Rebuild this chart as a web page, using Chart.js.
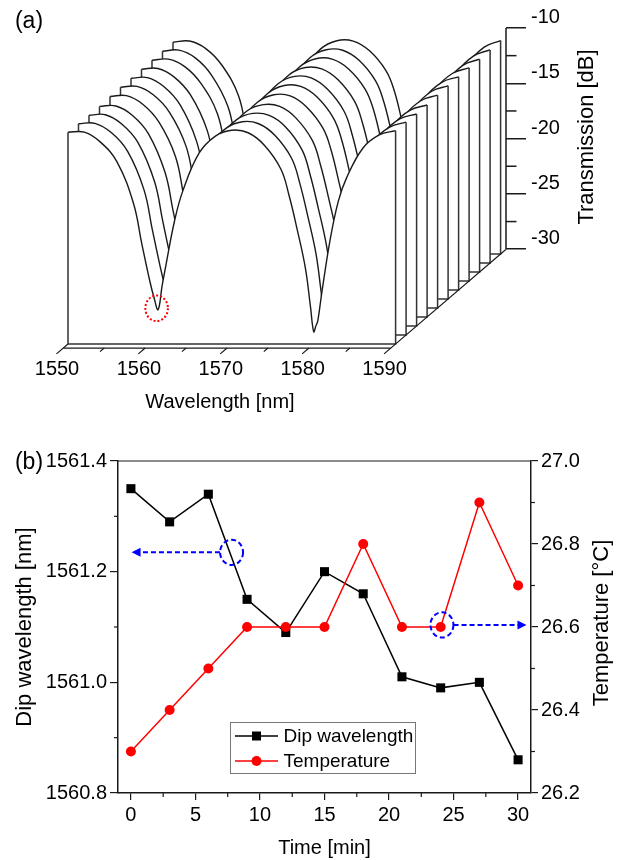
<!DOCTYPE html>
<html>
<head>
<meta charset="utf-8">
<script src="https://cdn.jsdelivr.net/npm/chart.js@4"></script>
<style>
  html, body { margin: 0; padding: 0; background: #fff; }
  canvas { position: absolute; left: 0; }
  #chartA { top: 0; }
  #chartB { top: 420px; }
</style>
</head>
<body>
<canvas id="chartA" width="624" height="420"></canvas>
<canvas id="chartB" width="624" height="440"></canvas>
<script>
// panel (a) - spectra, front trace first (30 min) to back trace (0 min)
var gridNm = [1550,1552,1554,1556,1558,1559,1560,1560.5,1561,1561.5,1562,1563,1564,1566,1568,1570,1572,1574,1576,1577,1578,1579,1579.6,1580,1580.25,1580.5,1581,1582,1583,1584,1586,1588,1590];
var trace30 = [-10.86,-10.85,-11.77,-13.55,-17.30,-20.90,-24.35,-25.80,-26.90,-24.70,-22.70,-18.90,-16.20,-12.75,-11.20,-10.67,-10.90,-12.05,-14.20,-16.60,-19.70,-23.20,-26.60,-28.90,-28.40,-27.90,-25.30,-20.60,-17.10,-15.00,-12.30,-11.10,-10.71];
var trace27 = [-10.90,-10.86,-11.70,-13.40,-16.88,-20.42,-23.90,-25.42,-26.62,-25.32,-23.30,-19.46,-16.62,-12.96,-11.32,-10.72,-10.90,-11.96,-14.00,-16.22,-19.28,-22.66,-25.94,-28.12,-28.02,-27.92,-25.94,-21.24,-17.56,-15.32,-12.48,-11.20,-10.76];
var trace24 = [-10.94,-10.90,-11.74,-13.44,-16.94,-20.50,-23.98,-25.48,-26.66,-25.24,-23.28,-19.46,-16.64,-13.00,-11.36,-10.78,-10.96,-12.00,-14.06,-16.32,-19.36,-22.74,-26.00,-28.20,-28.08,-27.96,-25.94,-21.26,-17.60,-15.38,-12.54,-11.26,-10.83];
var trace21 = [-10.96,-10.92,-11.76,-13.46,-16.92,-20.46,-23.94,-25.46,-26.64,-25.36,-23.40,-19.56,-16.72,-13.04,-11.38,-10.80,-10.96,-12.02,-14.06,-16.30,-19.32,-22.72,-25.98,-28.16,-28.07,-27.98,-26.02,-21.34,-17.64,-15.40,-12.56,-11.28,-10.83];
var trace18 = [-10.88,-10.80,-11.58,-13.22,-16.32,-19.84,-23.34,-24.94,-26.26,-26.02,-23.92,-20.06,-17.02,-13.16,-11.40,-10.72,-10.82,-11.82,-13.74,-15.74,-18.76,-22.02,-25.14,-27.22,-27.78,-28.34,-26.42,-21.98,-18.02,-15.62,-12.62,-11.24,-10.76];
var trace15 = [-10.86,-10.78,-11.54,-13.14,-16.18,-19.66,-23.18,-24.82,-26.14,-26.22,-24.08,-20.20,-17.12,-13.22,-11.40,-10.70,-10.78,-11.74,-13.64,-15.60,-18.62,-21.84,-24.92,-26.98,-27.74,-28.50,-26.66,-22.16,-18.14,-15.68,-12.64,-11.22,-10.73];
var trace12 = [-10.86,-10.80,-11.61,-13.27,-16.54,-20.06,-23.57,-25.14,-26.40,-25.72,-23.62,-19.78,-16.82,-13.06,-11.33,-10.69,-10.83,-11.86,-13.82,-15.94,-18.98,-22.28,-25.41,-27.50,-27.81,-28.12,-26.18,-21.64,-17.80,-15.46,-12.54,-11.20,-10.73];
var trace9  = [-10.86,-10.79,-11.57,-13.20,-16.34,-19.86,-23.36,-24.96,-26.28,-25.96,-23.86,-20.00,-16.98,-13.13,-11.37,-10.70,-10.82,-11.81,-13.74,-15.76,-18.78,-22.04,-25.17,-27.26,-27.78,-28.30,-26.36,-21.90,-17.98,-15.58,-12.59,-11.22,-10.73];
var trace6  = [-10.86,-10.76,-11.43,-12.97,-15.72,-19.18,-22.68,-24.36,-25.72,-26.84,-24.78,-20.72,-17.52,-13.38,-11.47,-10.72,-10.76,-11.64,-13.44,-15.22,-18.16,-21.26,-24.19,-26.14,-27.48,-28.82,-27.40,-22.74,-18.54,-15.98,-12.82,-11.30,-10.76];
var trace3  = [-10.86,-10.76,-11.46,-13.03,-15.88,-19.34,-22.84,-24.50,-25.84,-26.64,-24.98,-20.56,-17.40,-13.30,-11.44,-10.72,-10.77,-11.68,-13.52,-15.38,-18.32,-21.48,-24.46,-26.44,-27.55,-28.66,-27.20,-22.50,-18.38,-15.86,-12.76,-11.28,-10.74];
var trace0  = [-10.86,-10.75,-11.43,-12.96,-15.70,-19.14,-22.64,-24.34,-25.70,-26.86,-24.76,-20.76,-17.56,-13.40,-11.48,-10.72,-10.75,-11.63,-13.42,-15.20,-18.12,-21.22,-24.15,-26.10,-27.48,-28.86,-27.44,-22.78,-18.56,-16.00,-12.84,-11.30,-10.71];
var traces = [trace30,trace27,trace24,trace21,trace18,trace15,trace12,trace9,trace6,trace3,trace0];

var wlMajorTicks = [1550,1560,1570,1580,1590];
var wlMinorTicks = [1555,1565,1575,1585];
var dbMajorTicks = [-10,-15,-20,-25,-30];
var dbMinorTicks = [-12.5,-17.5,-22.5,-27.5];

// panel (b)
var timeMin = [0,3,6,9,12,15,18,21,24,27,30];
var dipWavelength = [1561.35,1561.29,1561.34,1561.15,1561.09,1561.20,1561.16,1561.01,1560.99,1561.00,1560.86];
var temperature = [26.3,26.4,26.5,26.6,26.6,26.6,26.8,26.6,26.6,26.9,26.7];
var timeMajorTicks = [0,5,10,15,20,25,30];
var timeMinorTicks = [2.5,7.5,12.5,17.5,22.5,27.5];
var dipMajorTicks = [1560.8,1561.0,1561.2,1561.4];
var dipMinorTicks = [1560.9,1561.1,1561.3];
var tempMajorTicks = [26.2,26.4,26.6,26.8,27.0];
var tempMinorTicks = [26.3,26.5,26.7,26.9];

var FONT = '"Liberation Sans", Arial, sans-serif';
var INK = '#1a1a1a';

// each trace sits one step further back and up in the fake depth direction
var depthNm = 1.282;
var depthDb = 0.814;

function setTicks(list) {
  return function (scale) {
    scale.ticks = list.map(function (v) { return { value: v }; });
  };
}

var datasetsA = [];
for (var i = 0; i < traces.length; i++) {
  var shiftNm = i * depthNm;
  var shiftDb = i * depthDb;
  var floorDb = -30 + shiftDb;
  var last = gridNm.length - 1;
  var pts = [];
  for (var j = 0; j < gridNm.length; j++) {
    pts.push({ x: gridNm[j] + shiftNm, y: traces[i][j] + shiftDb });
  }

  // the straight walls and floor of this trace, kept apart so the curve smoothing does not bend them
  datasetsA.push({
    data: [
      pts[0],
      { x: gridNm[0] + shiftNm, y: floorDb },
      { x: gridNm[last] + shiftNm, y: floorDb },
      pts[last]
    ],
    xAxisID: 'x', yAxisID: 'y',
    borderColor: '#333333', borderWidth: 1.5, pointRadius: 0, showLine: true, fill: false, clip: false
  });
  datasetsA.push({
    data: pts,
    xAxisID: 'x', yAxisID: 'y',
    borderColor: INK, borderWidth: 1.4, pointRadius: 0, showLine: true,
    tension: 0.4,
    fill: { value: floorDb }, backgroundColor: '#ffffff', clip: false
  });
}

var waterfallAxes = {
  id: 'waterfallAxes',
  afterDatasetsDraw: function (chart) {
    var ctx = chart.ctx, sx = chart.scales.x, sy = chart.scales.y, sd = chart.scales.yAxis;
    function px(nm, depth) { return sx.getPixelForValue(nm + depth * depthNm); }
    function py(depth) { return sy.getPixelForValue(-30 + depth * depthDb); }
    function seg(x1, y1, x2, y2) { ctx.beginPath(); ctx.moveTo(x1, y1); ctx.lineTo(x2, y2); ctx.stroke(); }

    ctx.save();
    ctx.strokeStyle = INK;
    ctx.lineWidth = 1.2;
    // lower edge of the floor + the two depth edges
    seg(px(1550, -0.45), py(-0.45), px(1590, -0.45), py(-0.45));
    seg(px(1550, -1.1), py(-1.1), px(1550, 0), py(0));
    seg(px(1590, -1.1), py(-1.1), px(1590, 10.5), py(10.5));
    // slanted wavelength ticks
    wlMajorTicks.forEach(function (v) { if (v > 1550 && v < 1590) seg(px(v, -0.45), py(-0.45), px(v, -1.1), py(-1.1)); });
    wlMinorTicks.forEach(function (v) { seg(px(v, -0.45), py(-0.45), px(v, -0.85), py(-0.85)); });
    // right hand dB axis
    ctx.lineWidth = 1.5;
    seg(sd.left, sd.getPixelForValue(-10), sd.left, sd.getPixelForValue(-30));
    dbMinorTicks.forEach(function (v) { var y = sd.getPixelForValue(v); seg(sd.left, y, sd.left + 10.5, y); });
    // red dotted circle around the tracked dip
    ctx.strokeStyle = '#ff0000';
    ctx.lineWidth = 2;
    ctx.setLineDash([2, 2]);
    ctx.beginPath();
    ctx.ellipse(sx.getPixelForValue(1560.82), sy.getPixelForValue(-26.77), 11.3, 12.8, 0, 0, Math.PI * 2);
    ctx.stroke();
    ctx.setLineDash([]);
    // texts that do not sit on the middle of an axis
    ctx.fillStyle = '#000';
    ctx.textAlign = 'center';
    ctx.textBaseline = 'middle';
    ctx.font = '23px ' + FONT;
    ctx.fillText('(a)', 29, 22);
    ctx.font = '20px ' + FONT;
    ctx.fillText('Wavelength [nm]', 220, 402);
    ctx.translate(587, 137);
    ctx.rotate(-Math.PI / 2);
    ctx.font = '22px ' + FONT;
    ctx.fillText('Transmission [dB]', 0, 0);
    ctx.restore();
  }
};

new Chart(document.getElementById('chartA'), {
  type: 'scatter',
  data: { datasets: datasetsA },
  plugins: [waterfallAxes],
  options: {
    responsive: false,
    animation: false,
    layout: { padding: { left: 68, top: 28, right: 0, bottom: 0 } },
    plugins: { legend: { display: false }, tooltip: { enabled: false } },
    scales: {
      x: {
        type: 'linear', position: 'bottom', min: 1550, max: 1603.48,
        afterBuildTicks: setTicks(wlMajorTicks),
        afterFit: function (s) { s.height = 73; },
        grid: { display: false },
        border: { display: false },
        ticks: {
          autoSkip: false, maxRotation: 0, padding: 2, labelOffset: -11, color: '#000',
          font: { family: FONT, size: 20 },
          callback: function (v) { return String(v); }
        }
      },
      y: { type: 'linear', display: false, min: -30.27, max: -1.43 },
      yAxis: {
        type: 'linear', position: 'right', min: -38.84, max: -10,
        afterBuildTicks: setTicks(dbMajorTicks),
        afterFit: function (s) { s.width = 118; },
        grid: { drawOnChartArea: false, tickLength: 20, tickColor: INK, lineWidth: 1.5 },
        border: { display: false },
        ticks: {
          autoSkip: false, padding: 5, labelOffset: -10.5, color: '#000',
          font: { family: FONT, size: 20 },
          callback: function (v) { return String(v); }
        }
      }
    }
  }
});

var annotations = {
  id: 'annotations',
  afterDatasetsDraw: function (chart) {
    var ctx = chart.ctx, a = chart.chartArea, sx = chart.scales.x, sl = chart.scales.y, sr = chart.scales.y2;
    function seg(x1, y1, x2, y2) { ctx.beginPath(); ctx.moveTo(x1, y1); ctx.lineTo(x2, y2); ctx.stroke(); }
    function minor(list, scale, base, dir, len, horizontal) {
      list.forEach(function (v) {
        var p = scale.getPixelForValue(v);
        if (horizontal) seg(p, base, p, base + dir * len);
        else seg(base, p, base + dir * len, p);
      });
    }
    function cursor(time, y, tipTime, fromTime) {
      var cx = sx.getPixelForValue(time);
      var tip = sx.getPixelForValue(tipTime), from = sx.getPixelForValue(fromTime);
      var dir = tip < from ? 1 : -1;
      ctx.strokeStyle = '#0000ff';
      ctx.fillStyle = '#0000ff';
      ctx.lineWidth = 2;
      ctx.setLineDash([5, 3]);
      ctx.beginPath();
      ctx.ellipse(cx, y, 11.5, 12.6, 0, 0, Math.PI * 2);
      ctx.stroke();
      seg(from, y, tip + dir * 8, y);
      ctx.setLineDash([]);
      ctx.beginPath();
      ctx.moveTo(tip, y);
      ctx.lineTo(tip + dir * 9, y - 4.5);
      ctx.lineTo(tip + dir * 9, y + 4.5);
      ctx.closePath();
      ctx.fill();
    }

    ctx.save();
    ctx.strokeStyle = INK;
    ctx.lineWidth = 1.2;
    seg(a.left, a.top, a.right, a.top);
    minor(timeMinorTicks, sx, a.bottom, 1, 4, true);
    minor(dipMinorTicks, sl, a.left, -1, 4, false);
    minor(tempMinorTicks, sr, a.right, 1, 4, false);

    cursor(7.8, sl.getPixelForValue(1561.235), 0.05, 6.9);
    cursor(24.1, sr.getPixelForValue(26.605), 30.65, 25);

    // legend box
    var ds = chart.data.datasets;
    ctx.strokeStyle = '#777';
    ctx.lineWidth = 1;
    ctx.fillStyle = '#fff';
    ctx.fillRect(230.5, 302.5, 185, 51);
    ctx.strokeRect(230.5, 302.5, 185, 51);
    var rows = [316, 341];
    ds.forEach(function (d, n) {
      ctx.strokeStyle = d.borderColor;
      ctx.lineWidth = 1.5;
      seg(235, rows[n], 278, rows[n]);
      ctx.fillStyle = d.borderColor;
      if (d.pointStyle === 'rect') {
        ctx.fillRect(252, rows[n] - 4.5, 9, 9);
      } else {
        ctx.beginPath();
        ctx.arc(256.5, rows[n], 5, 0, Math.PI * 2);
        ctx.fill();
      }
      ctx.fillStyle = '#000';
      ctx.font = '19px ' + FONT;
      ctx.textAlign = 'left';
      ctx.textBaseline = 'middle';
      ctx.fillText(d.label, 283.5, rows[n] + 1);
    });

    ctx.font = '23px ' + FONT;
    ctx.textAlign = 'center';
    ctx.fillText('(b)', 29, 43);
    // chart.js would turn a right axis title the other way round
    ctx.translate(602, 203);
    ctx.rotate(-Math.PI / 2);
    ctx.font = '22px ' + FONT;
    ctx.fillText('Temperature [°C]', 0, 0);
    ctx.restore();
  }
};

function xy(xs, ys) {
  return xs.map(function (x, k) { return { x: x, y: ys[k] }; });
}

new Chart(document.getElementById('chartB'), {
  type: 'scatter',
  data: {
    datasets: [
      {
        label: 'Dip wavelength', data: xy(timeMin, dipWavelength), yAxisID: 'y', order: 2,
        borderColor: '#000000', backgroundColor: '#000000', borderWidth: 1.5, showLine: true,
        pointStyle: 'rect', pointRadius: 6.4, pointBorderWidth: 0
      },
      {
        label: 'Temperature', data: xy(timeMin, temperature), yAxisID: 'y2', order: 1,
        borderColor: '#ff0000', backgroundColor: '#ff0000', borderWidth: 1.5, showLine: true,
        pointStyle: 'circle', pointRadius: 5, pointBorderWidth: 0
      }
    ]
  },
  plugins: [annotations],
  options: {
    responsive: false,
    animation: false,
    layout: { padding: { top: 41, left: 0, right: 0, bottom: 0 } },
    plugins: { legend: { display: false }, tooltip: { enabled: false } },
    scales: {
      x: {
        type: 'linear', position: 'bottom', min: -1, max: 31,
        afterBuildTicks: setTicks(timeMajorTicks),
        afterFit: function (s) { s.height = 67; },
        grid: { drawOnChartArea: false, tickLength: 7, tickColor: INK, lineWidth: 1.2 },
        border: { color: INK, width: 1.5 },
        title: { display: true, text: 'Time [min]', color: '#000', font: { family: FONT, size: 20 }, padding: { top: 1, bottom: 0 } },
        ticks: {
          autoSkip: false, maxRotation: 0, padding: 3, color: '#000',
          font: { family: FONT, size: 20 },
          callback: function (v) { return String(v); }
        }
      },
      y: {
        type: 'linear', position: 'left', min: 1560.8, max: 1561.4,
        afterBuildTicks: setTicks(dipMajorTicks),
        afterFit: function (s) { s.width = 118; },
        grid: { drawOnChartArea: false, tickLength: 8, tickColor: INK, lineWidth: 1.2 },
        border: { color: INK, width: 1.5 },
        title: { display: true, text: 'Dip wavelength [nm]', color: '#000', font: { family: FONT, size: 22 }, padding: { top: 12, bottom: 0 } },
        ticks: {
          autoSkip: false, padding: 3, color: '#000',
          font: { family: FONT, size: 20 },
          callback: function (v) { return v.toFixed(1); }
        }
      },
      y2: {
        type: 'linear', position: 'right', min: 26.2, max: 27.0,
        afterBuildTicks: setTicks(tempMajorTicks),
        afterFit: function (s) { s.width = 93; },
        grid: { drawOnChartArea: false, tickLength: 7, tickColor: INK, lineWidth: 1.2 },
        border: { color: INK, width: 1.5 },
        ticks: {
          autoSkip: false, padding: 3, color: '#000',
          font: { family: FONT, size: 20 },
          callback: function (v) { return v.toFixed(1); }
        }
      }
    }
  }
});
</script>
</body>
</html>
